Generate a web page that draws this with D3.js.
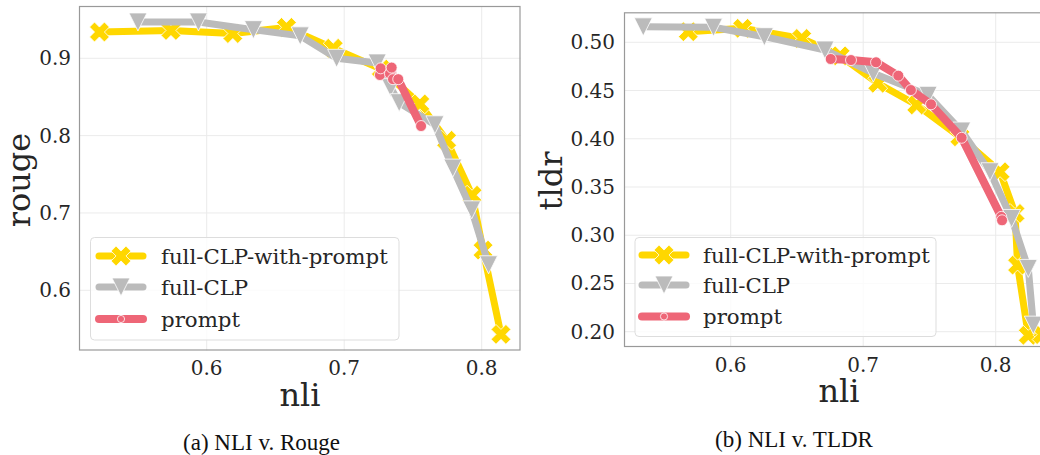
<!DOCTYPE html>
<html><head><meta charset="utf-8">
<script src="https://cdn.jsdelivr.net/npm/d3@7"></script>
<style>html,body{margin:0;padding:0;background:#fff;overflow:hidden}</style>
</head><body><svg id="c" width="1040" height="455"></svg>
<script>
// ---------- data ----------
const seriesNames = ["full-CLP-with-prompt", "full-CLP", "prompt"];

// Panel (a): NLI v. Rouge
const rougeWithPromptNli = [0.522, 0.574, 0.619, 0.658, 0.692, 0.727, 0.755, 0.7745, 0.793, 0.801, 0.814];
const rougeWithPromptVal = [0.934, 0.936, 0.932, 0.940, 0.913, 0.886, 0.841, 0.794, 0.723, 0.652, 0.543];
const rougeFullNli = [0.550, 0.594, 0.634, 0.668, 0.6945, 0.724, 0.7338, 0.740, 0.766, 0.779, 0.7927, 0.805];
const rougeFullVal = [0.947, 0.947, 0.937, 0.929, 0.900, 0.894, 0.862, 0.8426, 0.814, 0.758, 0.704, 0.633];
const rougePromptNli = [0.726, 0.7265, 0.7333, 0.7345, 0.7355, 0.7393, 0.7559];
const rougePromptVal = [0.8784, 0.887, 0.880, 0.888, 0.873, 0.873, 0.8124];

// Panel (b): NLI v. TLDR
const tldrWithPromptNli = [0.568, 0.609, 0.6536, 0.6826, 0.711, 0.7404, 0.773, 0.8033, 0.8146, 0.8165, 0.8246, 0.835];
const tldrWithPromptVal = [0.511, 0.5145, 0.504, 0.486, 0.4575, 0.435, 0.402, 0.3658, 0.3226, 0.269, 0.1963, 0.197];
const tldrFullNli = [0.534, 0.587, 0.6254, 0.6712, 0.7076, 0.749, 0.7743, 0.7957, 0.812, 0.8246, 0.8284];
const tldrFullVal = [0.516, 0.5156, 0.5058, 0.492, 0.468, 0.445, 0.408, 0.3658, 0.3174, 0.2656, 0.2068];
const tldrPromptNli = [0.6755, 0.6908, 0.7097, 0.7265, 0.736, 0.7512, 0.7743, 0.8042, 0.8048];
const tldrPromptVal = [0.4827, 0.4816, 0.4793, 0.4654, 0.4505, 0.4357, 0.401, 0.319, 0.3155];

const nliTicks = [0.6, 0.7, 0.8];
const rougeTicks = [0.6, 0.7, 0.8, 0.9];
const tldrTicks = [0.20, 0.25, 0.30, 0.35, 0.40, 0.45, 0.50];

// ---------- styles ----------
const colors = ["#FFD700", "#BBBBBB", "#EE6677"];
const lineW = [7, 7, 8];
const tickFont = "'DejaVu Serif', serif";
const capFont = "'Liberation Serif', 'Times New Roman', serif";

const svg = d3.select("#c");

function xPath(s) {
  const pts = [[-1,-3],[-1,-1],[-3,-1],[-3,1],[-1,1],[-1,3],[1,3],[1,1],[3,1],[3,-1],[1,-1],[1,-3]];
  const c = Math.SQRT1_2;
  return "M" + pts.map(([a,b]) => {
    const x = (a*c - b*c) * s / 6, y = (a*c + b*c) * s / 6;
    return x.toFixed(2) + "," + y.toFixed(2);
  }).join("L") + "Z";
}
function triPath(s) {
  const h = s / 2;
  return `M0,${h}L${-h},${-h}L${h},${-h}Z`;
}
function drawMarker(g, kind, x, y, leg) {
  if (kind === 0) {
    g.append("path").attr("d", xPath(21)).attr("transform", `translate(${x},${y})`)
      .attr("fill", colors[0]).attr("stroke", "#fff").attr("stroke-width", 0.8);
  } else if (kind === 1) {
    g.append("path").attr("d", triPath(18)).attr("transform", `translate(${x},${y})`)
      .attr("fill", colors[1]).attr("stroke", "#fff").attr("stroke-width", 0.8);
  } else {
    g.append("circle").attr("cx", x).attr("cy", y).attr("r", leg ? 3.6 : 5.5)
      .attr("fill", colors[2]).attr("stroke", "#fff").attr("stroke-width", 0.8);
  }
}

function panel(cfg) {
  const x = d3.scaleLinear().domain([0.6, 0.8]).range(cfg.xr);
  const y = d3.scaleLinear().domain(cfg.yd).range(cfg.yr);
  const [L, T, R, B] = cfg.box;
  const g = svg.append("g");
  const clipId = "clip" + cfg.id;
  g.append("clipPath").attr("id", clipId).append("rect")
    .attr("x", L).attr("y", T).attr("width", R - L).attr("height", B - T);

  // grid
  g.selectAll(null).data(nliTicks).join("line")
    .attr("x1", d => x(d)).attr("x2", d => x(d)).attr("y1", T).attr("y2", B)
    .attr("stroke", "#ebebeb").attr("stroke-width", 1);
  g.selectAll(null).data(cfg.yTicks).join("line")
    .attr("y1", d => y(d)).attr("y2", d => y(d)).attr("x1", L).attr("x2", R)
    .attr("stroke", "#ebebeb").attr("stroke-width", 1);

  // series
  const plot = g.append("g").attr("clip-path", `url(#${clipId})`);
  cfg.series.forEach((s, i) => {
    const pts = s[0].map((v, k) => [v, s[1][k]]).sort((a, b) => a[0] - b[0]);
    plot.append("path").datum(pts)
      .attr("d", d3.line().x(d => x(d[0])).y(d => y(d[1])))
      .attr("fill", "none").attr("stroke", colors[i]).attr("stroke-width", lineW[i])
      .attr("stroke-linejoin", "round").attr("stroke-linecap", "round");
    pts.forEach(p => drawMarker(plot, i, x(p[0]), y(p[1]), false));
  });

  // spines
  g.append("rect").attr("x", L + 0.5).attr("y", T + 0.5).attr("width", R - L - 1).attr("height", B - T - 1)
    .attr("fill", "none").attr("stroke", "#999").attr("stroke-width", 1.2);

  // tick labels
  g.selectAll(null).data(nliTicks).join("text")
    .attr("x", d => x(d)).attr("y", cfg.xTickY).attr("text-anchor", "middle")
    .attr("font-family", tickFont).attr("font-size", 20).attr("fill", "#262626")
    .text(d => d3.format(".1f")(d));
  g.selectAll(null).data(cfg.yTicks).join("text")
    .attr("x", cfg.yTickX).attr("y", d => y(d) + 7).attr("text-anchor", "end")
    .attr("font-family", tickFont).attr("font-size", 20).attr("fill", "#262626")
    .text(d => d3.format(cfg.yFmt)(d));

  // axis labels
  g.append("text").attr("x", cfg.xLab[0]).attr("y", cfg.xLab[1]).attr("text-anchor", "middle")
    .attr("font-family", tickFont).attr("font-size", 32).attr("fill", "#262626").text("nli");
  g.append("text").attr("transform", `translate(${cfg.yLab[0]},${cfg.yLab[1]}) rotate(-90)`)
    .attr("text-anchor", "middle")
    .attr("font-family", tickFont).attr("font-size", 32).attr("fill", "#262626").text(cfg.yName);

  // legend
  const [lx, ly, lw, lh] = cfg.legend;
  g.append("rect").attr("x", lx).attr("y", ly).attr("width", lw).attr("height", lh)
    .attr("rx", 4).attr("fill", "rgba(255,255,255,0.8)").attr("stroke", "#dddddd").attr("stroke-width", 1);
  seriesNames.forEach((nm, i) => {
    const ry = cfg.legRows[i];
    g.append("line").attr("x1", cfg.legLine[0]).attr("x2", cfg.legLine[1]).attr("y1", ry).attr("y2", ry)
      .attr("stroke", colors[i]).attr("stroke-width", lineW[i]).attr("stroke-linecap", "round");
    drawMarker(g, i, (cfg.legLine[0] + cfg.legLine[1]) / 2, ry, true);
    g.append("text").attr("x", cfg.legText).attr("y", ry + 7.5)
      .attr("font-family", tickFont).attr("font-size", 21.3).attr("fill", "#262626").text(nm);
  });

  // caption
  svg.append("text").attr("x", cfg.cap[0]).attr("y", cfg.cap[1]).attr("text-anchor", "middle")
    .attr("font-family", capFont).attr("font-size", 23).attr("fill", "#111").text(cfg.capText);
}

panel({
  id: "a",
  xr: [206.7, 481.7], yd: [0.6, 0.9], yr: [290.3, 58.3],
  box: [79, 6, 520.5, 350.5],
  series: [[rougeWithPromptNli, rougeWithPromptVal], [rougeFullNli, rougeFullVal], [rougePromptNli, rougePromptVal]],
  yTicks: rougeTicks, yFmt: ".1f",
  xTickY: 375, yTickX: 71,
  xLab: [300, 406], yLab: [30, 180], yName: "rouge",
  legend: [90.5, 237.5, 308.5, 102.5], legRows: [256, 287, 319], legLine: [99, 143], legText: 161,
  cap: [261.5, 450], capText: "(a) NLI v. Rouge"
});
panel({
  id: "b",
  xr: [730.7, 995.7], yd: [0.2, 0.5], yr: [331.7, 42.3],
  box: [624, 12.3, 1060, 347],
  series: [[tldrWithPromptNli, tldrWithPromptVal], [tldrFullNli, tldrFullVal], [tldrPromptNli, tldrPromptVal]],
  yTicks: tldrTicks, yFmt: ".2f",
  xTickY: 372, yTickX: 615,
  xLab: [839, 401.5], yLab: [562, 181], yName: "tldr",
  legend: [635, 237.5, 301, 99], legRows: [255, 285, 316.5], legLine: [642, 686], legText: 703,
  cap: [794, 447], capText: "(b) NLI v. TLDR"
});
</script>
</body></html>
